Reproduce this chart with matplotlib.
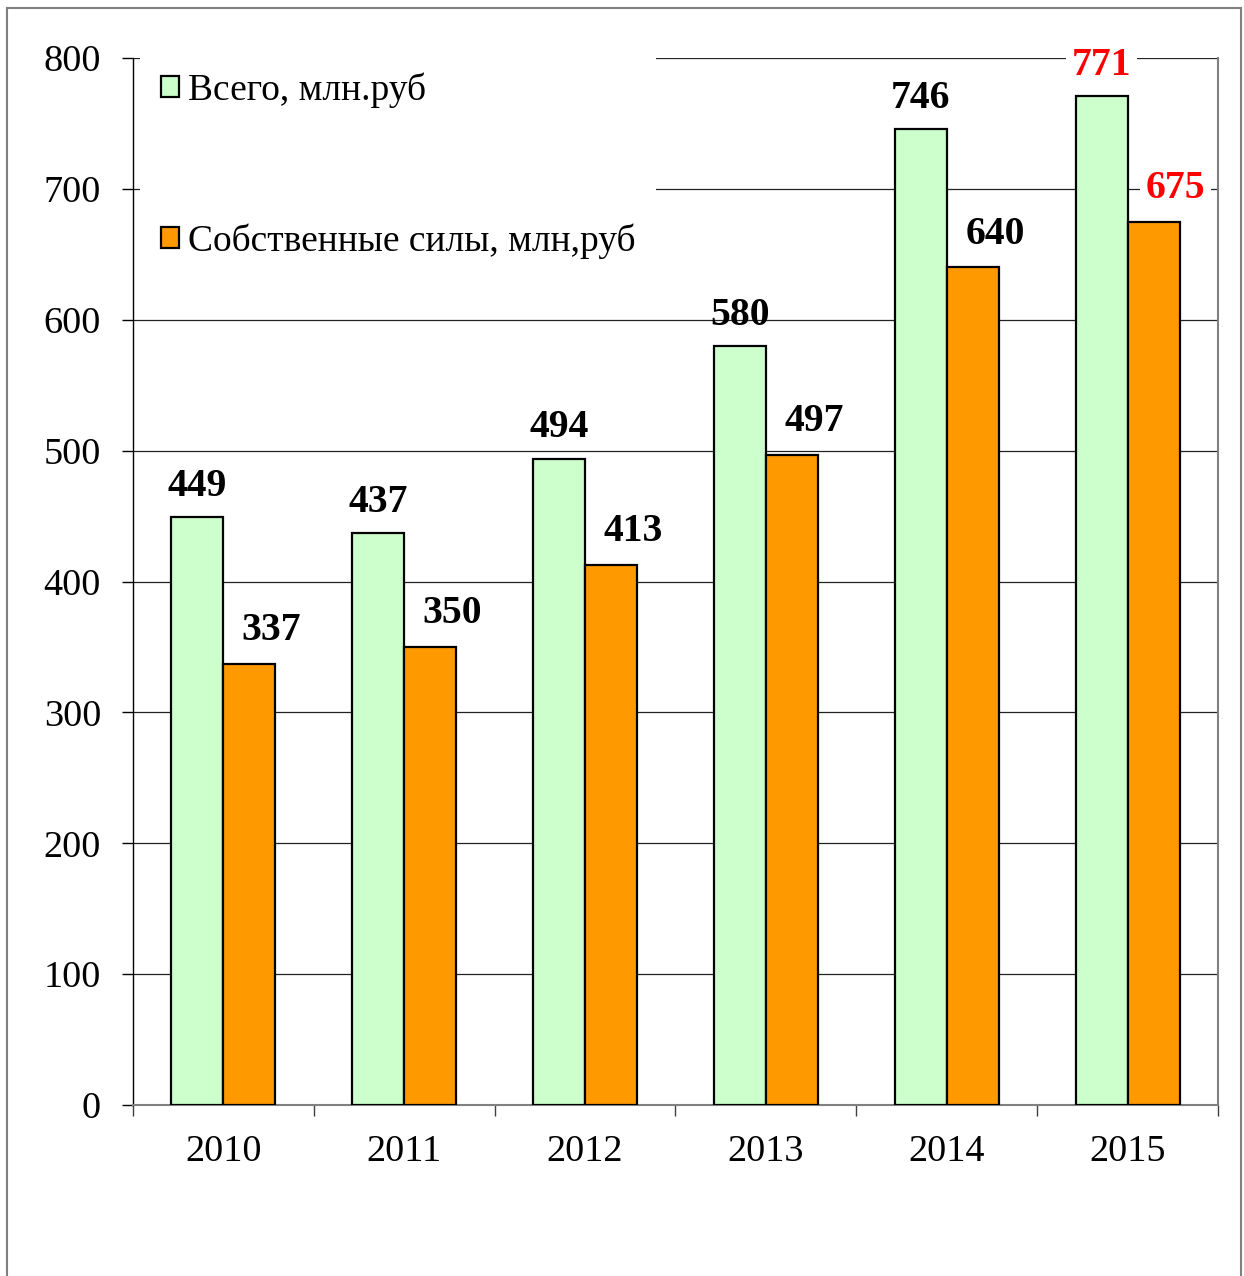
import numpy as np
import matplotlib.pyplot as plt
from matplotlib.patches import Rectangle

years = ['2010', '2011', '2012', '2013', '2014', '2015']
total = [449, 437, 494, 580, 746, 771]
own = [337, 350, 413, 497, 640, 675]
total_label = 'Всего, млн.руб'
own_label = 'Собственные силы, млн,руб'

plt.rcParams['font.family'] = ['Liberation Serif', 'DejaVu Serif']

GREEN = '#ccffcc'
ORANGE = '#ff9900'


def main():
  fig = plt.figure(figsize=(12.44, 12.76), dpi=100)
  ax = fig.add_axes([0.1069, 0.1340, 0.8722, 0.8205])

  # grey frame around the whole chart
  fig.patches.append(Rectangle((7 / 1244, -0.02), 1234 / 1244, 1.02 - 8 / 1276,
                               transform=fig.transFigure, fill=False,
                               edgecolor='#808080', linewidth=1.5))

  x = np.arange(len(years))
  w = 0.2875
  b1 = ax.bar(x - w / 2, total, w, color=GREEN, edgecolor='black', linewidth=1.6,
              label=total_label, zorder=3)
  b2 = ax.bar(x + w / 2, own, w, color=ORANGE, edgecolor='black', linewidth=1.6,
              label=own_label, zorder=3)

  ax.set_xlim(-0.5, len(years) - 0.5)
  ax.set_ylim(0, 800)
  ax.set_yticks(np.arange(0, 801, 100))
  ax.yaxis.grid(True, color='#222222', linewidth=0.9)
  ax.set_axisbelow(True)

  ax.set_xticks(x)
  ax.set_xticklabels(years)
  ax.set_xticks(np.arange(-0.5, len(years)), minor=True)
  ax.tick_params(axis='x', which='major', length=0, pad=21, labelsize=27.5)
  ax.tick_params(axis='x', which='minor', length=8, width=1, color='#404040', direction='out')
  ax.tick_params(axis='y', length=8, width=1, direction='out', pad=15, labelsize=27.5)

  ax.spines['top'].set_visible(False)
  ax.spines['left'].set_color('black')
  ax.spines['left'].set_linewidth(1)
  ax.spines['bottom'].set_color('#808080')
  ax.spines['bottom'].set_linewidth(1.5)
  ax.spines['right'].set_color('#808080')
  ax.spines['right'].set_linewidth(1.5)

  # value labels; the last year is highlighted in red
  last = len(years) - 1
  for i, bar in enumerate(b1):
    v = total[i]
    kw = {}
    color = 'black'
    if i == last:
      color = 'red'
      kw['bbox'] = dict(facecolor='white', edgecolor='none', pad=4)
    ax.annotate(str(v), (bar.get_x() + bar.get_width() / 2, v),
                xytext=(0, 22), textcoords='offset points', ha='center', va='center',
                fontsize=28.5, fontweight='bold', color=color, zorder=6, annotation_clip=False, **kw)
  for i, bar in enumerate(b2):
    v = own[i]
    kw = {}
    color = 'black'
    if i == last:
      color = 'red'
      kw['bbox'] = dict(facecolor='white', edgecolor='none', pad=4)
    ax.annotate(str(v), (bar.get_x() + bar.get_width() / 2, v),
                xytext=(16, 24), textcoords='offset points', ha='center', va='center',
                fontsize=28.5, fontweight='bold', color=color, zorder=6, annotation_clip=False, **kw)

  leg = ax.legend(loc='upper left', bbox_to_anchor=(0.0065, 1.006), borderaxespad=0,
                  fontsize=27, frameon=True, fancybox=False, framealpha=1,
                  facecolor='white', edgecolor='none', borderpad=0.55,
                  labelspacing=3.08, handlelength=0.5, handleheight=0.5,
                  handletextpad=0.22)
  leg.set_zorder(5)
  for h in leg.legend_handles:
    h.set_linewidth(1.6)

  fig.savefig('out.png', dpi=100)


main()
